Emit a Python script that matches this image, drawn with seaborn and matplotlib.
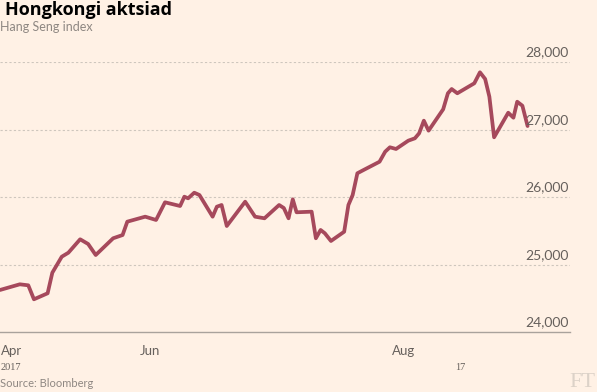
import matplotlib
matplotlib.use("Agg")
import matplotlib.pyplot as plt
import matplotlib.transforms as mtransforms
import pandas as pd
import seaborn as sns

# ── Data (Hang Seng index, days counted from 28 Apr 2017) ───────────────────
DAYS = [0, 4.2, 6.0, 7.2, 10.1, 11.1, 13.1, 14.5, 17.0, 18.7, 20.3, 24.0,
        26.0, 27.0, 30.8, 33.1, 35.0, 38.2, 39.1, 39.9, 41.2, 42.3, 45.1,
        46.0, 47.0, 48.1, 52.0, 54.1, 56.1, 59.2, 60.2, 61.2, 62.1, 62.9,
        66.1, 67.0, 68.0, 68.9, 70.2, 73.0, 73.9, 74.8, 75.8, 77.1, 80.5,
        81.7, 82.7, 84.0, 86.6, 88.0, 88.9, 89.9, 90.9, 94.0, 95.0, 95.8,
        97.0, 100.6, 101.8, 102.9, 103.8, 104.8, 107.8, 108.9, 109.7, 110.8,
        111.9]
HSI = [24627, 24711, 24696, 24489, 24578, 24883, 25120, 25179, 25378, 25308,
       25145, 25393, 25441, 25639, 25713, 25664, 25926, 25871, 26009, 25985,
       26068, 26034, 25713, 25861, 25886, 25575, 25935, 25713, 25689, 25886,
       25841, 25689, 25970, 25778, 25787, 25393, 25516, 25467, 25353, 25490,
       25886, 26034, 26356, 26404, 26527, 26676, 26741, 26716, 26839, 26874,
       26948, 27135, 26987, 27304, 27541, 27604, 27541, 27689, 27852, 27753,
       27490, 26889, 27253, 27179, 27416, 27357, 27056]

Y_TICKS = [24000, 25000, 26000, 27000, 28000]
X_TICKS = [0.2, 2.8, 29.7, 56.0, 83.2]
X_LABELS = ["Apr", "", "Jun", "", "Aug"]
YEAR_POS = [0.2, 96.5]
YEAR_LABELS = ["2017", "17"]

# ── Style ────────────────────────────────────────────────────────────────────
BG = "#FFF1E5"
LINE = "#A6495C"
TEXT = "#66605C"
GRID = "#CEC6BD"
AXIS = "#A9A29C"

sns.set_style("white", {"axes.facecolor": BG, "figure.facecolor": BG})
plt.rcParams["font.family"] = ["Lato", "DejaVu Sans"]

df = pd.DataFrame({"day": DAYS, "hsi": HSI})

fig = plt.figure(figsize=(5.97, 3.92), dpi=100)
ax = fig.add_axes([0, 1 - 332.3 / 392, 570 / 597, 270 / 392])

sns.lineplot(data=df, x="day", y="hsi", color=LINE, linewidth=2.7, ax=ax)
for ln in ax.lines:
    ln.set_clip_on(False)
    ln.set_solid_joinstyle("round")

ax.set_xlim(0, 120.9)
ax.set_ylim(Y_TICKS[0], Y_TICKS[-1])

# dotted gridlines + right-hand labels sitting on them
for v in Y_TICKS[1:]:
    ax.axhline(v, color=GRID, linestyle=(0, (2, 2)), linewidth=0.8, zorder=0)
blend = mtransforms.blended_transform_factory(ax.transAxes, ax.transData)
for v in Y_TICKS:
    ax.text(0.998, v + 60, f"{v:,}", transform=blend, ha="right", va="bottom",
            fontsize=10, color=TEXT)
ax.set_yticks([])

for s in ["top", "right", "left"]:
    ax.spines[s].set_visible(False)
ax.spines["bottom"].set_color(AXIS)
ax.spines["bottom"].set_linewidth(1)

ax.set_xticks(X_TICKS)
ax.set_xticklabels(X_LABELS, fontsize=9.5, color=TEXT, ha="left")
ax.tick_params(axis="x", direction="out", length=4, width=0.8, color=AXIS, pad=5)
ax.set_xlabel("")
ax.set_ylabel("")

xblend = mtransforms.blended_transform_factory(ax.transData, ax.transAxes)
for pos, lab in zip(YEAR_POS, YEAR_LABELS):
    ax.text(pos, -0.115, lab, transform=xblend, ha="left", va="top",
            fontsize=7.5, color=TEXT, family=["Liberation Serif", "DejaVu Serif"])

# ── Titles / footer ──────────────────────────────────────────────────────────
fig.text(5 / 597, 1 - 1 / 392, "Hongkongi aktsiad", ha="left", va="top",
         fontsize=13, fontweight="bold", color="black", family=["Open Sans", "DejaVu Sans"])
fig.text(0, 1 - 21 / 392, "Hang Seng index", ha="left", va="top",
         fontsize=9, color="#8E8782")
fig.text(0, 1 - 389 / 392, "Source: Bloomberg", ha="left", va="bottom",
         fontsize=8, color="#8E8782")
fig.text(595 / 597, 0, "FT", ha="right", va="bottom", fontsize=16,
         color="#DCD2C8", family=["Liberation Serif", "DejaVu Serif"])

fig.savefig("out.png", dpi=100, facecolor=BG)
